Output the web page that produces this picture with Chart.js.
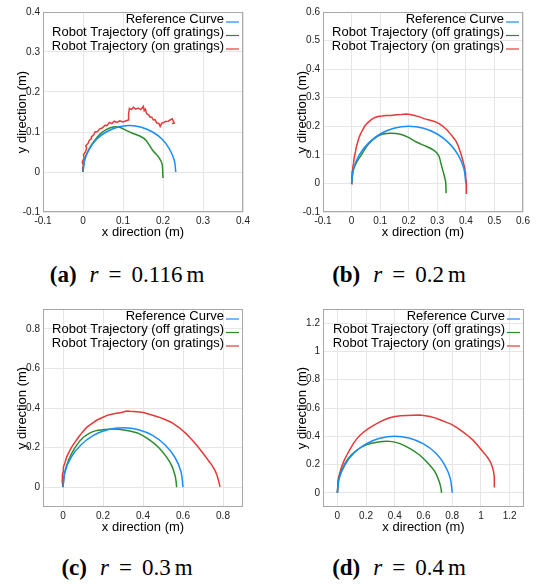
<!DOCTYPE html>
<html>
<head>
<meta charset="utf-8">
<script src="https://cdn.jsdelivr.net/npm/chart.js@4.4.0/dist/chart.umd.min.js"></script>
<style>
body { margin: 0; background: #fff; width: 537px; height: 584px; position: relative; overflow: hidden; }
.panel { position: absolute; }
.caption { position: absolute; text-align: center; font-family: "Liberation Serif", serif; font-size: 23px; line-height: 22px; color: #000; white-space: nowrap; }
.caption i { margin-left: 13px; }
.caption .eq { margin: 0 10px; }
.caption .u { margin-left: 4px; }
</style>
</head>
<body>
<div class="panel" style="left:0;top:0"><canvas id="chartA" width="268" height="250"></canvas></div>
<div class="panel" style="left:268px;top:0"><canvas id="chartB" width="269" height="250"></canvas></div>
<div class="panel" style="left:0;top:300px"><canvas id="chartC" width="268" height="240"></canvas></div>
<div class="panel" style="left:268px;top:300px"><canvas id="chartD" width="269" height="240"></canvas></div>

<div class="caption" style="left:0;width:254px;top:264px"><b>(a)</b><i>r</i><span class="eq">=</span>0.116<span class="u">m</span></div>
<div class="caption" style="left:268px;width:262px;top:264px"><b>(b)</b><i>r</i><span class="eq">=</span>0.2<span class="u">m</span></div>
<div class="caption" style="left:0;width:254px;top:557px"><b>(c)</b><i>r</i><span class="eq">=</span>0.3<span class="u">m</span></div>
<div class="caption" style="left:268px;width:262px;top:557px"><b>(d)</b><i>r</i><span class="eq">=</span>0.4<span class="u">m</span></div>

<script>
// legend labels and colours
const seriesNames = ["Reference Curve", "Robot Trajectory (off gratings)", "Robot Trajectory (on gratings)"];
const seriesColors = ["#1a8cff", "#2a8c2a", "#e83838"];

// (a) r = 0.116 m
const refA = [[0,0],[0.004,0.030],[0.016,0.058],[0.034,0.082],[0.058,0.100],[0.086,0.112],[0.116,0.116],
  [0.146,0.112],[0.174,0.100],[0.198,0.082],[0.216,0.058],[0.228,0.030],[0.232,0]];
const offA = [[0,0],[0.004,0.031],[0.0125,0.052],[0.025,0.073],[0.042,0.094],[0.058,0.106],[0.079,0.113],
  [0.092,0.112],[0.104,0.106],[0.121,0.098],[0.142,0.090],[0.158,0.079],[0.175,0.053],[0.19,0.036],
  [0.198,0.019],[0.2,-0.015]];
const onA = [[0,0],[-0.001,0.010],[0.001,0.017],[-0.002,0.025],[0.003,0.035],[0.001,0.043],[0.006,0.050],
  [0.009,0.059],[0.007,0.066],[0.013,0.072],[0.015,0.078],[0.020,0.083],[0.021,0.088],[0.027,0.093],
  [0.030,0.100],[0.036,0.101],[0.042,0.108],[0.048,0.110],[0.055,0.117],[0.060,0.116],[0.066,0.124],
  [0.072,0.121],[0.078,0.127],[0.085,0.124],[0.092,0.128],[0.100,0.125],[0.108,0.128],[0.113,0.130],
  [0.114,0.145],[0.116,0.159],[0.121,0.156],[0.126,0.162],[0.132,0.157],[0.138,0.160],[0.144,0.156],
  [0.151,0.164],[0.153,0.153],[0.156,0.157],[0.159,0.146],[0.164,0.143],[0.168,0.137],[0.172,0.137],
  [0.176,0.130],[0.180,0.131],[0.184,0.123],[0.190,0.121],[0.193,0.114],[0.197,0.122],[0.200,0.123],
  [0.206,0.126],[0.213,0.127],[0.219,0.131],[0.223,0.133],[0.228,0.122],[0.222,0.121]];

// (b) r = 0.2 m
const refB = [[0,0],[0.007,0.052],[0.027,0.100],[0.059,0.141],[0.100,0.173],[0.148,0.193],[0.200,0.200],
  [0.252,0.193],[0.300,0.173],[0.341,0.141],[0.373,0.100],[0.393,0.052],[0.400,0]];
const offB = [[0,0],[0.005,0.042],[0.016,0.071],[0.034,0.100],[0.057,0.135],[0.086,0.162],[0.110,0.173],
  [0.139,0.176],[0.168,0.173],[0.197,0.162],[0.226,0.145],[0.261,0.130],[0.291,0.114],[0.306,0.095],
  [0.314,0.065],[0.322,0.036],[0.329,0.007],[0.331,-0.034]];
const onB = [[0,-0.002],[0.001,0.020],[0.002,0.042],[0.004,0.055],[0.007,0.071],[0.009,0.090],[0.014,0.112],
  [0.016,0.125],[0.022,0.147],[0.026,0.160],[0.030,0.170],[0.038,0.186],[0.0455,0.200],[0.056,0.212],
  [0.069,0.223],[0.080,0.230],[0.092,0.2345],[0.106,0.236],[0.121,0.238],[0.138,0.238],[0.156,0.240],
  [0.174,0.241],[0.191,0.243],[0.205,0.241],[0.2205,0.238],[0.238,0.233],[0.256,0.226],[0.272,0.222],
  [0.290,0.217],[0.305,0.210],[0.320,0.200],[0.335,0.186],[0.349,0.170],[0.358,0.158],[0.366,0.147],
  [0.373,0.132],[0.378,0.118],[0.383,0.103],[0.387,0.089],[0.392,0.070],[0.396,0.054],[0.398,0.040],
  [0.399,0.0245],[0.401,0.010],[0.401,-0.005],[0.402,-0.020],[0.4025,-0.037]];

// (c) r = 0.3 m
const refC = [[0,0],[0.010,0.078],[0.040,0.150],[0.088,0.212],[0.150,0.260],[0.222,0.290],[0.300,0.300],
  [0.378,0.290],[0.450,0.260],[0.512,0.212],[0.560,0.150],[0.590,0.078],[0.600,0]];
const offC = [[0,0],[0.007,0.068],[0.027,0.135],[0.060,0.200],[0.102,0.252],[0.152,0.282],[0.210,0.292],
  [0.277,0.293],[0.327,0.285],[0.377,0.272],[0.427,0.243],[0.477,0.202],[0.518,0.152],[0.543,0.110],
  [0.560,0.060],[0.566,0.025],[0.568,0]];
const onC = [[0,0],[-0.004,0.030],[-0.002,0.052],[-0.004,0.065],[0.002,0.080],[0.002,0.102],[0.010,0.125],
  [0.018,0.152],[0.030,0.177],[0.043,0.202],[0.060,0.228],[0.077,0.252],[0.097,0.278],[0.118,0.302],
  [0.142,0.320],[0.168,0.338],[0.197,0.352],[0.227,0.365],[0.260,0.372],[0.293,0.377],[0.318,0.385],
  [0.335,0.383],[0.370,0.381],[0.402,0.377],[0.440,0.366],[0.477,0.355],[0.510,0.342],[0.543,0.327],
  [0.582,0.300],[0.618,0.268],[0.648,0.236],[0.677,0.202],[0.703,0.168],[0.727,0.135],[0.745,0.110],
  [0.760,0.085],[0.770,0.060],[0.777,0.035],[0.783,0.012],[0.785,0.002]];

// (d) r = 0.4 m
const refD = [[0,0],[0.014,0.104],[0.054,0.200],[0.117,0.283],[0.200,0.346],[0.296,0.386],[0.400,0.400],
  [0.504,0.386],[0.600,0.346],[0.683,0.283],[0.746,0.200],[0.786,0.104],[0.800,0]];
const offD = [[0,0],[0.007,0.090],[0.030,0.160],[0.076,0.243],[0.134,0.300],[0.204,0.341],[0.285,0.360],
  [0.366,0.364],[0.436,0.348],[0.506,0.313],[0.575,0.266],[0.633,0.207],[0.680,0.149],[0.710,0.078],
  [0.722,0.030],[0.726,0]];
const onD = [[0,0],[0.007,0.101],[0.018,0.145],[0.030,0.184],[0.046,0.226],[0.065,0.266],[0.088,0.308],
  [0.111,0.348],[0.134,0.380],[0.158,0.407],[0.186,0.432],[0.216,0.454],[0.244,0.472],[0.274,0.489],
  [0.303,0.505],[0.332,0.519],[0.365,0.531],[0.401,0.540],[0.440,0.545],[0.483,0.547],[0.530,0.549],
  [0.575,0.550],[0.612,0.546],[0.645,0.540],[0.680,0.530],[0.715,0.517],[0.756,0.500],[0.796,0.484],
  [0.838,0.458],[0.877,0.430],[0.912,0.402],[0.947,0.371],[0.978,0.335],[1.005,0.301],[1.030,0.272],
  [1.051,0.243],[1.068,0.214],[1.079,0.184],[1.088,0.150],[1.093,0.113],[1.094,0.075],[1.093,0.038]];

// axis ranges and tick values per panel (same on x and y)
const panelMins = [-0.1, -0.1, -0.1, -0.1];
const panelMaxs = [0.4, 0.6, 0.9, 1.3];
const ticksA = [-0.1, 0, 0.1, 0.2, 0.3, 0.4];
const ticksB = [-0.1, 0, 0.1, 0.2, 0.3, 0.4, 0.5, 0.6];
const ticksC = [0, 0.2, 0.4, 0.6, 0.8];
const ticksD = [0, 0.2, 0.4, 0.6, 0.8, 1, 1.2];

// draws the box, the axis titles and the legend the way gnuplot does
const framePlugin = {
    id: 'frame',
    afterDraw(chart) {
        const {ctx, chartArea: {left, right, top, bottom}} = chart;
        ctx.save();
        ctx.strokeStyle = "#a8a8a8";
        ctx.lineWidth = 1;
        ctx.strokeRect(left + 0.5, top + 0.5, right - left - 1, bottom - top - 1);

        ctx.fillStyle = "#000";
        ctx.font = "13px 'Liberation Sans', Arial, sans-serif";
        ctx.textAlign = "center";
        ctx.textBaseline = "middle";
        ctx.fillText("x direction (m)", (left + right) / 2, bottom + 20.5);
        ctx.save();
        ctx.translate(left - 20.5, (top + bottom) / 2);
        ctx.rotate(-Math.PI / 2);
        ctx.fillText("y direction (m)", 0, 0);
        ctx.restore();

        ctx.textAlign = "right";
        seriesNames.forEach((name, i) => {
            const y = top + 7 + i * 13.5;
            ctx.fillStyle = "#000";
            ctx.fillText(name, right - 19, y);
            ctx.strokeStyle = seriesColors[i];
            ctx.lineWidth = 1.2;
            ctx.beginPath();
            ctx.moveTo(right - 17, y + 3);
            ctx.lineTo(right - 4, y + 3);
            ctx.stroke();
        });
        ctx.restore();
    }
};

function makeChart(id, idx, tickVals, ref, off, on, pad, axisW, axisH) {
    const toPts = arr => arr.map(p => ({x: p[0], y: p[1]}));
    const min = panelMins[idx], max = panelMaxs[idx];
    const tickCfg = {
        padding: 3,
        color: "#222",
        font: {family: "'Liberation Sans', Arial, sans-serif", size: 10},
        callback: v => String(+v.toFixed(2))
    };
    const gridCfg = {color: "#e6e6e6", lineWidth: 1, drawTicks: false};
    const setTicks = s => { s.ticks = tickVals.map(v => ({value: v})); };
    new Chart(document.getElementById(id).getContext('2d'), {
        type: 'scatter',
        data: {
            datasets: [
                {data: toPts(ref), borderColor: seriesColors[0], tension: 0.4},
                {data: toPts(off), borderColor: seriesColors[1], tension: 0.2},
                {data: toPts(on), borderColor: seriesColors[2], tension: 0}
            ].map(d => Object.assign(d, {showLine: true, pointRadius: 0, borderWidth: 1.5, fill: false}))
        },
        options: {
            responsive: false,
            animation: false,
            devicePixelRatio: 1,
            layout: {padding: pad},
            plugins: {legend: {display: false}, tooltip: {enabled: false}},
            scales: {
                x: {
                    type: 'linear', min: min, max: max,
                    ticks: tickCfg, grid: gridCfg, border: {display: false},
                    afterBuildTicks: setTicks,
                    afterFit: s => { s.height = axisH; }
                },
                y: {
                    type: 'linear', min: min, max: max,
                    ticks: tickCfg, grid: gridCfg, border: {display: false},
                    afterBuildTicks: setTicks,
                    afterFit: s => { s.width = axisW; }
                }
            }
        },
        plugins: [framePlugin]
    });
}

makeChart('chartA', 0, ticksA, refA, offA, onA, {left: 0, top: 12, right: 25, bottom: 0}, 43, 38);
makeChart('chartB', 1, ticksB, refB, offB, onB, {left: 0, top: 12, right: 14, bottom: 0}, 55, 38);
makeChart('chartC', 2, ticksC, refC, offC, onC, {left: 0, top: 8, right: 25, bottom: 0}, 43, 33);
makeChart('chartD', 3, ticksD, refD, offD, onD, {left: 0, top: 8, right: 13, bottom: 0}, 55, 33);
</script>
</body>
</html>
